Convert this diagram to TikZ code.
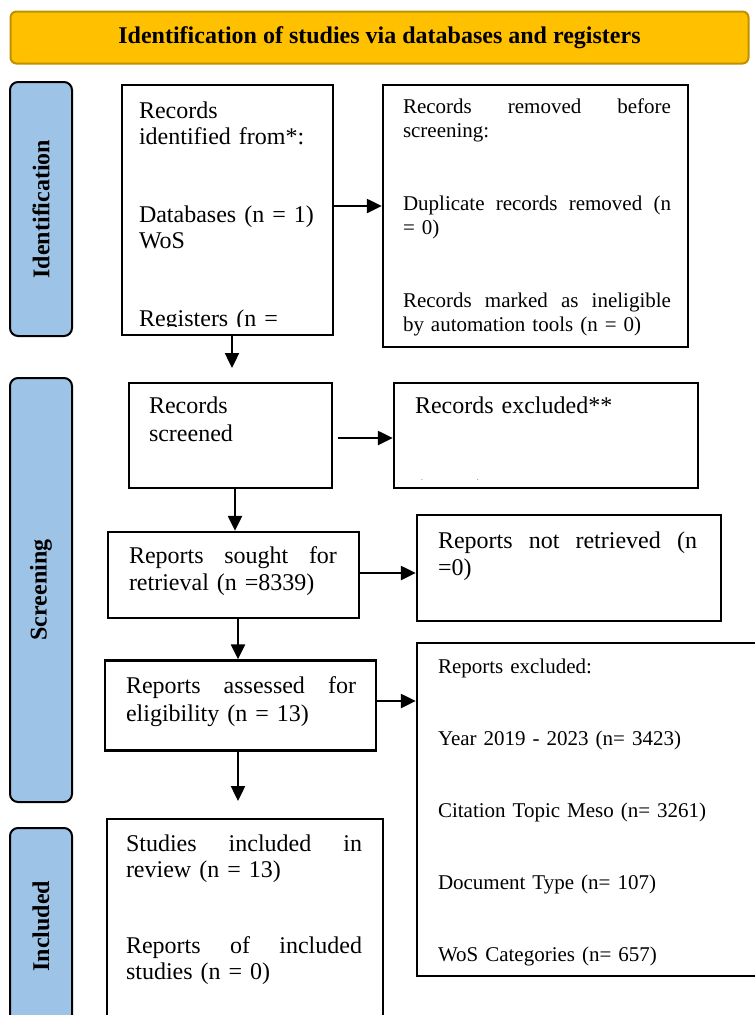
\documentclass[tikz,border=0pt]{standalone}
\usepackage{fontspec}
\setmainfont{Liberation Serif}
\usetikzlibrary{arrows.meta,positioning,calc}
\definecolor{hdr}{RGB}{255,192,0}
\definecolor{hdrline}{RGB}{191,144,0}
\definecolor{phase}{RGB}{157,195,230}

\tikzset{
  box/.style={draw, line width=2.4pt, inner sep=0pt},
  phasebox/.style={draw, line width=2pt, fill=phase, rounded corners=8pt, inner sep=0pt, minimum width=62pt},
  flow/.style={line width=2.4pt, -{Triangle[length=15pt,width=14pt]}},
  txt/.style={anchor=base west, inner sep=0pt, align=left},
  big/.style={font=\fontsize{24}{26}\selectfont},
  small/.style={font=\fontsize{21}{24}\selectfont}
}

\begin{document}
\begin{tikzpicture}[x=1pt, y=-1pt, big]
\useasboundingbox (0,0) rectangle (755,1015);
\clip (0,0) rectangle (755,1015);

% header
\node[draw=hdrline, line width=2pt, fill=hdr, rounded corners=6pt,
      minimum width=738pt, minimum height=52pt] (head) at (379.5,37.5)
  {\bfseries Identification of studies via databases and registers};

% phases
\foreach \nm/\yt/\yb/\lab in {ident/82/336/Identification, screen/378/802/Screening, incl/828/1024/Included}{
  \node[phasebox, minimum height={\yb-\yt}] (\nm) at (41,{(\yt+\yb)/2}) {};
  \node[rotate=90, font=\fontsize{24}{26}\selectfont\bfseries] at (\nm) {\lab};
}

% boxes
\node[box, minimum width=211pt, minimum height=250pt] (ids)    at (227.5,210) {};
\node[box, minimum width=305pt, minimum height=262pt] (rem)    at (535.5,216) {};
\node[box, minimum width=203pt, minimum height=105pt] (scr)    at (230.5,435.5) {};
\node[box, minimum width=304pt, minimum height=105pt] (exc)    at (546,435.5) {};
\node[box, minimum width=251pt, minimum height=86pt]  (sought) at (233.5,575) {};
\node[box, minimum width=304pt, minimum height=106pt] (notret) at (569,568) {};
\node[box, minimum width=271pt, minimum height=90pt]  (assess) at (240.5,705.5) {};
\node[box, minimum width=353pt, minimum height=333pt] (repexc) at (593.5,809.5) {};
\node[box, minimum width=276pt, minimum height=211pt] (incd)   at (245,924.5) {};

% texts
\begin{scope}
  \clip (ids.north west) rectangle ([yshift=10pt]ids.south east);
  \node[txt, text width=193pt] at ([xshift=18pt,yshift=-35pt]ids.north west)
    {Records\\identified from*:\\[52pt]Databases (n = 1)\\WoS\\[52pt]Registers (n =};
\end{scope}
\begin{scope}
  \clip (rem.north west) rectangle ([yshift=10pt]rem.south east);
  \node[txt, small, text width=268pt] at ([xshift=21pt,yshift=-30pt]rem.north west)
    {Records\hfill removed\hfill before\\screening:\\[49pt]
     Duplicate\hfill records\hfill removed\hfill (n\\= 0)\\[49pt]
     Records\hfill marked\hfill as\hfill ineligible\\by automation tools (n = 0)};
\end{scope}
\node[txt, text width=180pt, font=\fontsize{24}{28}\selectfont]
  at ([xshift=21pt,yshift=-32pt]scr.north west) {Records\\screened};
\begin{scope}
  \clip (exc.north west) rectangle ([yshift=9.5pt]exc.south east);
  \node[txt, text width=280pt, font=\fontsize{24}{26.3}\selectfont]
    at ([xshift=22pt,yshift=-32pt]exc.north west) {Records excluded**\\[56pt](n = 0)};
\end{scope}
\node[txt, text width=208pt, font=\fontsize{24}{27}\selectfont]
  at ([xshift=22pt,yshift=-33pt]sought.north west)
  {Reports\hfill sought\hfill for\\retrieval (n =8339)};
\node[txt, text width=259pt, font=\fontsize{24}{27}\selectfont]
  at ([xshift=22pt,yshift=-35pt]notret.north west)
  {Reports\hfill not\hfill retrieved\hfill (n\\=0)};
\node[txt, text width=230pt, font=\fontsize{24}{28}\selectfont]
  at ([xshift=22pt,yshift=-34pt]assess.north west)
  {Reports\hfill assessed\hfill for\\eligibility (n = 13)};
\begin{scope}
  \clip (repexc.north west) rectangle ([yshift=11pt]repexc.south east);
  \node[txt, text width=300pt, font=\fontsize{21}{72}\selectfont]
    at ([xshift=22pt,yshift=-32pt]repexc.north west)
    {Reports excluded:\\Year 2019 - 2023 (n= 3423)\\Citation Topic Meso (n= 3261)\\
     Document Type (n= 107)\\WoS Categories (n= 657)};
\end{scope}
\node[txt, text width=236pt]
  at ([xshift=20pt,yshift=-34pt]incd.north west)
  {Studies\hfill included\hfill in\\review (n = 13)\\[50pt]
   Reports\hfill of\hfill included\\studies (n = 0)};

% arrows
\coordinate (a1) at (232,368);
\coordinate (a2) at (238,801);
\draw[flow] (ids.south -| a1) -- (a1);
\draw[flow] ([yshift=4pt]ids.east) -- ([yshift=4pt]ids.east -| rem.west);
\draw[flow] ([xshift=5pt,yshift=-2.5pt]scr.east) -- ([yshift=-2.5pt]scr.east -| exc.west);
\draw[flow] ([xshift=4.5pt]scr.south) -- ([xshift=4.5pt]scr.south |- sought.north);
\draw[flow] ([yshift=2pt]sought.east) -- ([yshift=2pt]sought.east -| notret.west);
\draw[flow] ([xshift=4.5pt]sought.south) -- ([xshift=4.5pt]sought.south |- assess.north);
\draw[flow] ([yshift=4.5pt]assess.east) -- ([yshift=4.5pt]assess.east -| repexc.west);
\draw[flow] (assess.south -| a2) -- (a2);
\end{tikzpicture}
\end{document}
